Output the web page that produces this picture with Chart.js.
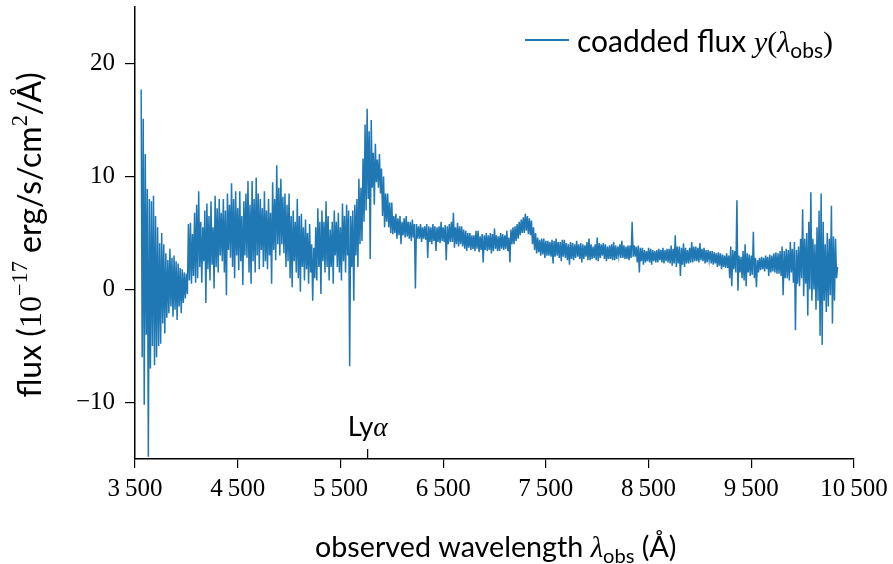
<!DOCTYPE html>
<html>
<head>
<meta charset="utf-8">
<script src="https://cdn.jsdelivr.net/npm/chart.js@4.4.0/dist/chart.umd.min.js"></script>
<style>
  html, body { margin: 0; padding: 0; background: #fff; }
</style>
</head>
<body>
<canvas id="spectrum" width="893" height="564"></canvas>
<script>
// wavelength grid of the coadded spectrum (Angstrom)
const lambdaStart = 3560;
const lambdaStep = 10;

// flux, 1e-17 erg/s/cm^2/A (one row = 200 A)
const flux = [
  17.7, -6, 15.1, -10.2, 12, -4, 8.9, -14.8, 8.0, -7, 7.8, -5, 8.3, -6.7, 6.5, -6.0, 5.5, -5, 4.1, -4.8,
  5.0, -3.0, 4.0, -3.9, 3.2, -2.5, 2.6, -2.1, 3.6, -1.5, 2.8, -2.4, 3.0, -1.8, 2.5, -2.7, 2.3, -1.5, 1.9, -2.1,
  1.8, -1.2, 1.5, -0.8, 1.4, -0.4, 5.8, 0.8, 5.9, 0.5, 4.9, 1.2, 6.8, 0.6, 7.5, 1.0, 8.7, 2.0, 6.0, 0.6,
  5.5, 2.5, 7.0, -1.2, 7.6, 1.8, 6.5, 0.8, 7.8, 2.2, 5.5, 0.1, 8.3, 2.0, 7.2, 1.5, 8.0, 3.0, 6.8, 2.5,
  8.0, 1.5, 7.0, -0.5, 8.5, 3.5, 7.5, 2.8, 9.4, 2.0, 8.0, 1.0, 8.7, 3.0, 7.2, 1.7, 8.7, 2.5, 6.5, 0.4,
  7.8, 3.0, 8.5, 2.8, 9.6, 1.5, 7.5, 0.5, 9.6, 2.5, 8.0, 1.5, 9.9, 3.0, 8.5, 1.8, 8.0, 3.5, 7.2, 2.0,
  8.7, 2.5, 7.0, 1.8, 8.0, 3.0, 6.8, 0.5, 9.5, 3.5, 8.0, 2.6, 11.0, 4.0, 9.0, 3.0, 9.8, 4.0, 8.2, 3.2,
  8.5, 2.0, 7.5, 2.5, 8.5, 1.0, 6.5, 0.2, 7.0, 2.5, 6.0, 1.5, 8.0, 1.0, 6.5, -0.2, 6.7, 2.0, 5.5, 0.8,
  6.2, 1.8, 5.0, 0.5, 5.8, 1.5, 4.0, -1.0, 3.7, 1.0, 5.5, 0.8, 7.2, 2.0, 6.0, -0.4, 7.0, 2.5, 6.0, 1.5,
  7.8, 2.0, 6.5, 0.8, 5.3, 2.0, 6.0, 0.5, 7.0, 3.0, 6.0, 2.0, 6.8, 1.5, 5.5, 0.8, 7.6, 2.5, 6.5, 1.5,
  7.5, 3.0, 7.0, -6.8, 6.5, 2.0, 7.0, -1.0, 7.5, 3.0, 8.0, 2.0, 9.8, 4.0, 9.0, 4.3, 11.6, 6.0, 14.6, 7.0,
  16.0, 8.0, 14.0, 2.7, 15.0, 9.0, 12.1, 7.5, 12.9, 9.5, 11.5, 9.0, 12.0, 8.5, 10.7, 6.5, 10.0, 5.5, 8.5, 6.0,
  8.5, 5.5, 7.7, 5.0, 7.7, 4.9, 6.5, 5.0, 6.7, 4.5, 6.3, 4.8, 6.5, 4.0, 6.0, 4.8, 6.3, 4.6, 6.5, 4.7,
  6.0, 4.5, 6.0, 4.3, 6.2, 4.6, 5.8, 0.1, 5.8, 4.5, 5.6, 4.5, 5.8, 4.2, 5.5, 4.5, 5.6, 4.4, 5.8, 2.8,
  5.6, 4.2, 5.5, 4.0, 5.8, 4.3, 5.6, 3.4, 5.5, 4.2, 5.6, 4.1, 6.0, 4.3, 5.5, 4.2, 5.7, 2.6, 5.6, 4.0,
  5.8, 4.2, 6.0, 4.2, 6.8, 3.7, 5.5, 4.0, 5.9, 3.8, 5.6, 4.0, 5.6, 3.8, 5.3, 3.6, 5.2, 3.4, 5.0, 3.7,
  5.0, 3.5, 4.8, 3.6, 4.8, 3.4, 5.2, 3.6, 5.2, 3.3, 4.7, 3.5, 4.9, 2.4, 4.8, 3.5, 5.0, 3.4, 4.8, 3.5,
  5.0, 3.2, 4.9, 3.4, 5.4, 3.6, 4.8, 3.4, 4.7, 3.4, 5.0, 3.6, 4.9, 3.5, 4.8, 3.6, 5.2, 3.4, 4.6, 2.4,
  5.3, 4.0, 5.5, 4.0, 5.6, 4.3, 5.8, 4.5, 6.0, 4.8, 6.2, 5.0, 6.4, 5.0, 6.7, 5.2, 6.5, 4.9, 6.3, 4.8,
  6.1, 4.0, 5.5, 3.5, 5.0, 3.2, 4.6, 3.3, 4.4, 3.0, 4.5, 3.1, 4.5, 2.8, 4.3, 3.0, 4.3, 3.0, 4.2, 2.9,
  4.4, 2.3, 4.3, 2.9, 4.5, 3.0, 4.2, 2.8, 4.2, 2.5, 4.4, 2.9, 4.4, 2.8, 4.1, 2.6, 4.0, 2.2, 4.2, 2.7,
  4.1, 2.6, 4.0, 2.8, 4.3, 2.9, 4.0, 2.7, 4.1, 2.4, 4.0, 2.7, 3.9, 2.9, 4.2, 2.6, 4.5, 2.6, 4.0, 2.7,
  3.8, 2.8, 4.0, 2.6, 4.6, 2.5, 4.1, 2.8, 4.0, 3.0, 4.1, 2.7, 4.0, 2.5, 3.8, 2.7, 3.9, 2.7, 4.0, 2.6,
  4.2, 2.6, 3.9, 2.7, 3.8, 3.0, 4.0, 2.8, 4.3, 2.8, 3.9, 2.7, 3.8, 2.7, 3.9, 2.6, 3.9, 2.8, 6.0, 2.9,
  3.9, 2.9, 3.8, 2.4, 3.9, 1.5, 3.7, 2.5, 3.7, 2.2, 3.5, 2.4, 3.4, 2.5, 3.7, 2.4, 3.6, 2.2, 3.5, 2.5,
  3.4, 2.4, 3.5, 2.4, 3.6, 2.6, 3.5, 2.4, 3.7, 2.3, 3.5, 2.5, 3.6, 2.4, 3.6, 2.3, 3.9, 2.1, 3.6, 2.3,
  4.8, 2.0, 3.8, 2.3, 3.8, 1.2, 3.7, 2.2, 4.1, 2.0, 3.7, 2.3, 3.5, 2.3, 3.7, 2.4, 4.2, 2.4, 3.8, 2.5,
  3.8, 2.5, 3.7, 2.4, 4.1, 2.6, 3.6, 2.5, 3.7, 2.3, 3.5, 2.4, 3.5, 2.6, 3.4, 2.3, 3.4, 2.2, 3.3, 2.3,
  3.2, 2.0, 3.3, 2.1, 3.2, 1.8, 3.1, 2.0, 3.0, 1.9, 3.2, 1.9, 3.0, 1.0, 3.8, 0.3, 3.5, 1.8, 3.4, 1.5,
  7.9, -0.1, 3.0, 1.5, 2.9, 1.0, 3.4, 0.8, 4.0, 0.3, 3.2, 1.5, 3.1, 1.2, 3.0, 1.3, 5.1, 1.0, 2.8, 0.2,
  2.6, 1.5, 2.8, 1.7, 2.9, 1.8, 2.8, 1.6, 3.0, 1.8, 2.9, 1.2, 3.1, 1.5, 3.0, 1.6, 3.2, 1.5, 3.3, 1.4,
  3.2, 1.4, 3.4, 1.2, 3.8, -0.5, 3.4, 1.0, 3.6, 1.0, 3.5, 0.8, 4.2, 1.5, 3.6, 0.6, 4.2, -3.6, 3.5, 0.5,
  3.8, 0.3, 4.5, 1.0, 7.1, -0.6, 4.5, 0.5, 5.0, -2.3, 6.0, 0.0, 8.6, -1.0, 4.5, 0.0, 4.0, -1.8, 5.5, -1.0,
  7.0, -4.1, 8.5, -4.9, 6.0, -1.0, 4.0, -2.0, 5.0, -1.5, 4.5, -0.5, 7.4, -3.0, 4.7, -1.0, 4.5, 1.0, 2.0
];

const xTicks = [3500, 4500, 5500, 6500, 7500, 8500, 9500, 10500];
const yTicks = [-10, 0, 10, 20];
const lyaWavelength = 5765;

const serif = '"Liberation Serif", "DejaVu Serif", serif';
const sans = 'Lato, "DejaVu Sans", sans-serif';

const points = flux.map((f, i) => ({ x: lambdaStart + i * lambdaStep, y: f }));

function fmtThousands(v) {
    const s = String(v);
    return s.length > 3 ? s.slice(0, -3) + '\u2009' + s.slice(-3) : s;
}

function fontOf(r, k) {
    return (r.style ? r.style + ' ' : '') + (r.size * k).toFixed(1) + 'px ' + r.family;
}

// draw text pieces one after another (sub/superscripts), scaled to a target width
function drawRuns(ctx, runs, x, y, align, width) {
    let total = 0;
    runs.forEach(r => { ctx.font = fontOf(r, 1); total += ctx.measureText(r.text).width; });
    const k = width ? width / total : 1;
    let cx = align === 'center' ? x - total * k / 2 : x;
    runs.forEach(r => {
        ctx.font = fontOf(r, k);
        ctx.fillText(r.text, cx, y + (r.dy || 0) * k);
        cx += ctx.measureText(r.text).width;
    });
}

const extras = {
    id: 'extras',
    afterDraw(chart) {
        const ctx = chart.ctx;
        const xs = chart.scales.x;
        const area = chart.chartArea;
        ctx.save();
        ctx.fillStyle = '#000';
        ctx.strokeStyle = '#000';
        ctx.textBaseline = 'alphabetic';
        ctx.textAlign = 'left';

        // Ly-alpha marker on the bottom axis
        const lx = xs.getPixelForValue(lyaWavelength);
        ctx.lineWidth = 1.2;
        ctx.beginPath();
        ctx.moveTo(lx, area.bottom);
        ctx.lineTo(lx, area.bottom - 10);
        ctx.stroke();
        drawRuns(ctx, [
            { text: 'Ly', size: 20, family: sans },
            { text: 'α', style: 'italic', size: 20, family: serif }
        ], lx, 436, 'center', 40);

        // legend
        ctx.strokeStyle = '#1f77b4';
        ctx.lineWidth = 1.8;
        ctx.beginPath();
        ctx.moveTo(525, 40);
        ctx.lineTo(569, 40);
        ctx.stroke();
        drawRuns(ctx, [
            { text: 'coadded flux ', size: 20, family: sans },
            { text: 'y', style: 'italic', size: 20, family: serif },
            { text: '(', size: 20, family: serif },
            { text: 'λ', style: 'italic', size: 20, family: serif },
            { text: 'obs', size: 14, family: sans, dy: 4 },
            { text: ')', size: 20, family: serif }
        ], 577, 52, 'left', 256);

        // x axis title
        drawRuns(ctx, [
            { text: 'observed wavelength ', size: 20, family: sans },
            { text: 'λ', style: 'italic', size: 20, family: serif },
            { text: 'obs', size: 14, family: sans, dy: 4 },
            { text: ' (Å)', size: 20, family: sans }
        ], 496, 557, 'center', 362);

        // y axis title
        ctx.translate(41, 235);
        ctx.rotate(-Math.PI / 2);
        drawRuns(ctx, [
            { text: 'flux (', size: 20, family: sans },
            { text: '10', size: 20, family: serif },
            { text: '\u221217', size: 14, family: serif, dy: -9 },
            { text: ' erg/s/cm', size: 20, family: sans },
            { text: '2', size: 14, family: serif, dy: -9 },
            { text: '/Å)', size: 20, family: sans }
        ], 0, 0, 'center', 325);
        ctx.restore();
    }
};

new Chart(document.getElementById('spectrum'), {
    type: 'line',
    data: {
        datasets: [{
            label: 'coadded flux',
            data: points,
            borderColor: '#1f77b4',
            borderWidth: 1.5,
            pointRadius: 0,
            tension: 0,
            fill: false
        }]
    },
    options: {
        responsive: false,
        animation: false,
        devicePixelRatio: 1,
        layout: { padding: { left: 0, right: 39, top: 7, bottom: 0 } },
        plugins: {
            legend: { display: false },
            tooltip: { enabled: false }
        },
        scales: {
            x: {
                type: 'linear',
                min: 3500,
                max: 10500,
                afterBuildTicks: s => { s.ticks = xTicks.map(v => ({ value: v })); },
                afterFit: s => { s.height = 105; s.paddingLeft = 0; s.paddingRight = 0; },
                grid: { drawOnChartArea: false, tickLength: 9, color: '#000', lineWidth: 1.2 },
                border: { color: '#000', width: 1.5 },
                ticks: {
                    color: '#000',
                    font: { family: serif, size: 25 },
                    padding: 6,
                    maxRotation: 0,
                    autoSkip: false,
                    callback: v => fmtThousands(v)
                }
            },
            y: {
                min: -15,
                max: 25,
                afterBuildTicks: s => { s.ticks = yTicks.map(v => ({ value: v })); },
                afterFit: s => { s.width = 135; s.paddingTop = 0; s.paddingBottom = 0; },
                grid: { drawOnChartArea: false, tickLength: 10, color: '#000', lineWidth: 1.2 },
                border: { color: '#000', width: 1.5 },
                ticks: {
                    color: '#000',
                    font: { family: serif, size: 25 },
                    padding: 10,
                    callback: v => v < 0 ? '\u2212' + Math.abs(v) : String(v)
                }
            }
        }
    },
    plugins: [extras]
});
</script>
</body>
</html>
